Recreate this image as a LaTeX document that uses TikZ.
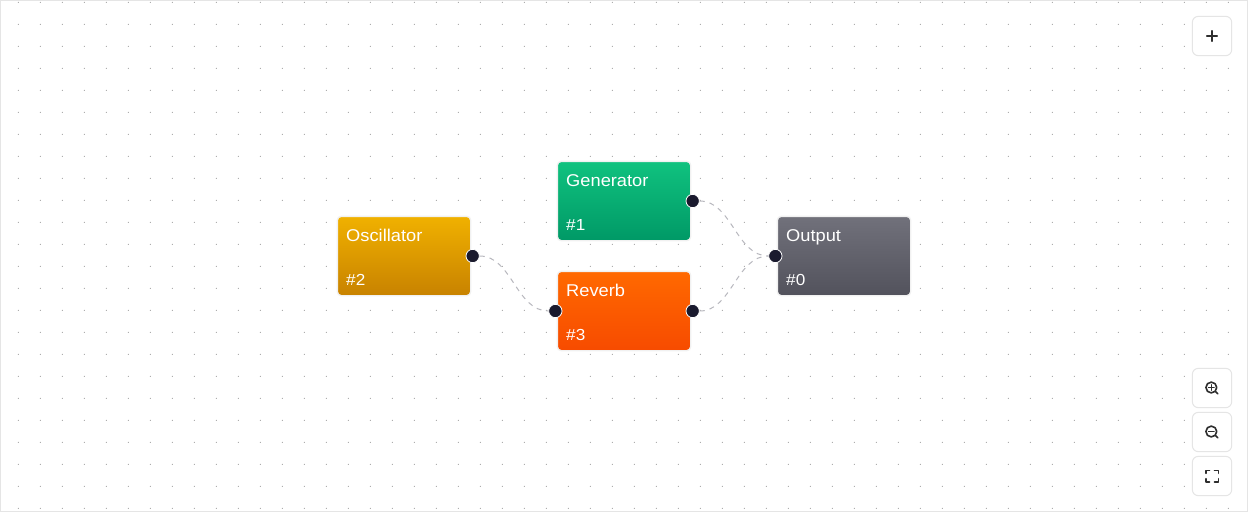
\documentclass[tikz,border=0pt]{standalone}
\usepackage{fontspec}
\setmainfont[FakeStretch=1.07]{Liberation Sans}
\usetikzlibrary{positioning}
\definecolor{frameline}{HTML}{E5E5E5}
\definecolor{griddot}{HTML}{909090}
\definecolor{ringline}{HTML}{F1F1F1}
\definecolor{portfill}{HTML}{1A1A2E}
\definecolor{wireline}{HTML}{B8B8BE}
\definecolor{iconline}{HTML}{2E2E2E}
\tikzstyle{block}=[
shape=rectangle,
draw=ringline,
line width=1pt,
rounded corners=3pt,
minimum width=100pt,
minimum height=59.5pt,
inner sep=0pt
]
\tikzstyle{osc block} = [block,top color={rgb,255:red,240;green,177;blue,0},bottom color={rgb,255:red,200;green,130;blue,0}]
\tikzstyle{gen block} = [block,top color={rgb,255:red,16;green,194;blue,127},bottom color={rgb,255:red,0;green,153;blue,102}]
\tikzstyle{rev block} = [block,top color={rgb,255:red,255;green,105;blue,0},bottom color={rgb,255:red,247;green,75;blue,0}]
\tikzstyle{out block} = [block,top color={rgb,255:red,113;green,113;blue,123},bottom color={rgb,255:red,82;green,82;blue,92}]
\tikzstyle{blockname} = [text=white,font=\fontsize{12.8pt}{15pt}\selectfont,inner sep=0pt,anchor=base west]
\tikzstyle{blockid} = [text=white,font=\fontsize{12pt}{14pt}\selectfont,inner sep=0pt,anchor=base west]
\tikzstyle{port} = [draw=white,fill=portfill,shape=circle,line width=.6pt,minimum size=10pt,inner sep=0pt]
\tikzstyle{wire} = [draw=wireline,line width=.75pt,dash pattern=on 3.75pt off 3.75pt,out=0,in=180,distance=24pt]
\tikzstyle{button} = [draw=frameline,fill=white,line width=.75pt,rounded corners=4.5pt,minimum size=29.5pt,inner sep=0pt]
\tikzstyle{icon} = [draw=iconline,line width=1.2pt,line cap=round,line join=round]
\tikzset{
glass/.pic={
\draw[icon] (-.7,-.5) circle (5.4);
\draw[icon] (3.5,3.6) -- (5.8,5.9);
}
}
\begin{document}
\begin{tikzpicture}[x=.75pt,y=-.75pt]
\useasboundingbox (0,0) rectangle (1248,512);
\fill[white] (0,0) rectangle (1248,512);
\draw[frameline,line width=.75pt] (.5,.5) rectangle (1247.5,511.5);

% dotted background
\foreach \x in {18,40,...,1228}
\foreach \y in {2,24,...,508}
\fill[griddot] (\x+.3,\y+.3) circle (.55);

% blocks
\node[osc block] (osc) at (404,256) {};
\node[gen block] (gen) at (624,201) {};
\node[rev block] (rev) at (624,311) {};
\node[out block] (out) at (844,256) {};

\node[blockname] (oscName) at ([shift={(9.3,25.8)}]osc.north west) {Oscillator};
\node[blockid] (oscId) at ([shift={(9.3,69.8)}]osc.north west) {\#2};
\node[blockname] (genName) at ([shift={(9.3,25.8)}]gen.north west) {Generator};
\node[blockid] (genId) at ([shift={(9.3,69.8)}]gen.north west) {\#1};
\node[blockname] (revName) at ([shift={(9.3,25.8)}]rev.north west) {Reverb};
\node[blockid] (revId) at ([shift={(9.3,69.8)}]rev.north west) {\#3};
\node[blockname] (outName) at ([shift={(9.3,25.8)}]out.north west) {Output};
\node[blockid] (outId) at ([shift={(9.3,69.8)}]out.north west) {\#0};

% ports
\node[port] (oscOut) at ([xshift=1pt]osc.east) {};
\node[port] (genOut) at ([xshift=1pt]gen.east) {};
\node[port] (revOut) at ([xshift=1pt]rev.east) {};
\node[port] (revIn) at ([xshift=-1pt]rev.west) {};
\node[port] (outIn) at ([xshift=-1pt]out.west) {};

\path
(oscOut) edge[wire] (revIn)
(genOut) edge[wire] (outIn)
(revOut) edge[wire] (outIn);

% buttons
\node[button] (addBtn) at (1212,36) {};
\node[button] (inBtn) at (1212,388) {};
\node[button] (outBtn) at (1212,432) {};
\node[button] (fitBtn) at (1212,476) {};

\draw[icon,line width=.95pt] (1206.7,36) -- (1217.3,36) (1212,30.7) -- (1212,41.3);

\pic at (inBtn.center) {glass};
\draw[icon] (1208.6,387.5) -- (1214,387.5) (1211.3,384.8) -- (1211.3,390.2);
\pic at (outBtn.center) {glass};
\draw[icon] (1208.6,431.5) -- (1214,431.5);

\draw[icon] (1206,473.3) -- (1206,470.3) -- (1209.5,470.3);
\draw[icon] (1214.5,470.3) -- (1218.4,470.3) -- (1218.4,473.3);
\draw[icon] (1218.4,478.7) -- (1218.4,481.7) -- (1214.5,481.7);
\draw[icon] (1209.5,481.7) -- (1206,481.7) -- (1206,478.7);
\end{tikzpicture}
\end{document}
